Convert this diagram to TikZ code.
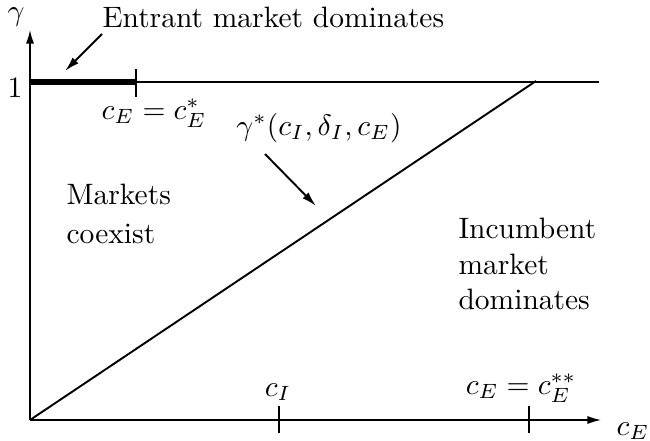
\documentclass[tikz,border=0pt]{standalone}
\usetikzlibrary{arrows.meta}
\begin{document}
\begin{tikzpicture}[x=0.339pt,y=-0.339pt,
  axis/.style={line width=0.8pt,-{Latex[length=5pt,width=2.8pt]}},
  thin line/.style={line width=0.65pt},
  heavy line/.style={line width=2pt},
  note/.style={line width=0.65pt,-{Latex[length=5pt,width=2.8pt]}},
  lbl/.style={inner sep=0pt, font=\normalsize},
]
\useasboundingbox (0,0) rectangle (650,441);
% axis points
\coordinate (O) at (30,420);
\coordinate (ytop) at (30,29);
\coordinate (xend) at (602,420);
\coordinate (one) at (30,82);
\coordinate (oneend) at (599,82);
\coordinate (cstar) at (136,82);
\coordinate (cstarT) at (136,69);
\coordinate (cstarB) at (136,97);
\coordinate (cIT) at (279,406);
\coordinate (cIB) at (279,433);
\coordinate (cssT) at (529,406);
\coordinate (cssB) at (529,433);
\coordinate (diagend) at (536,81);
% axes
\draw[axis] (O) -- (ytop);
\draw[axis] (O) -- (xend);
% gamma = 1 line
\draw[thin line] (one) -- (oneend);
\draw[heavy line] (one) -- (cstar);
\draw[thin line] (cstarT) -- (cstarB);
% ticks on x axis
\draw[thin line] (cIT) -- (cIB);
\draw[thin line] (cssT) -- (cssB);
% diagonal
\draw[thin line] (O) -- (diagend);
% labels
\node[lbl] (gam) at (16,17) {$\gamma$};
\node[lbl] (lone) at (15,88) {$1$};
\node[lbl, anchor=base west] (entr) at (102,28) {Entrant market dominates};
\node[lbl] (cEs) at (154,113) {$c_E = c_E^*$};
\node[lbl] (gstar) at (319,128) {$\gamma^*(c_I,\delta_I,c_E)$};
\node[lbl, align=left, anchor=west] (coex) at (66,214) {Markets\\[1.3pt]coexist};
\node[lbl, align=left, anchor=west] (inc) at (458,264) {Incumbent\\market\\dominates};
\node[lbl] (cIl) at (278,392) {$c_I$};
\node[lbl] (cEss) at (521,388) {$c_E = c_E^{**}$};
\node[lbl] (cEax) at (633,431) {$c_E$};
% annotation arrows
\coordinate (a1s) at (102,34);
\coordinate (a1e) at (65,71);
\coordinate (a2s) at (265,154);
\coordinate (a2e) at (316,206);
\draw[note] (a1s) -- (a1e);
\draw[note] (a2s) -- (a2e);
\end{tikzpicture}
\end{document}
